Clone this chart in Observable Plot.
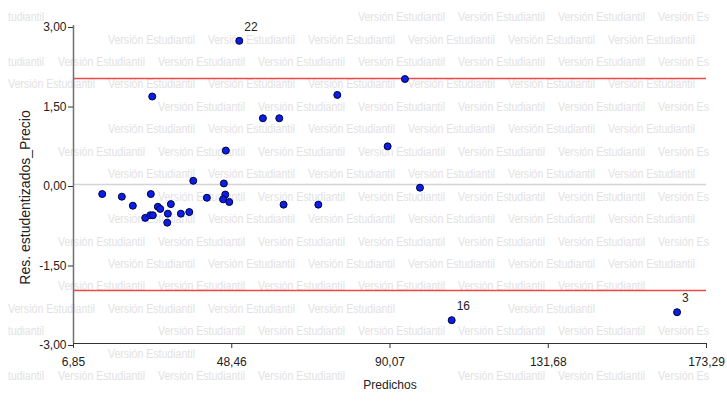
<!DOCTYPE html>
<html>
<head>
<meta charset="utf-8">
<script src="https://cdn.jsdelivr.net/npm/d3@7"></script>
<script src="https://cdn.jsdelivr.net/npm/@observablehq/plot@0.6"></script>
<style>
  body { margin: 0; background: #fff; }
  #wrap { position: relative; width: 727px; height: 403px; overflow: hidden; }
  #wm, #chart { position: absolute; left: 0; top: 0; }
</style>
</head>
<body>
<div id="wrap"><svg id="wm" width="727" height="403"></svg><div id="chart"></div></div>
<script>
// Data: predicted values (x) and studentized residuals (y); case labels for flagged points
const predichos = [14.40, 19.56, 22.45, 27.18, 25.71, 27.03, 27.71, 29.03, 29.66, 32.45,
  31.66, 31.50, 35.08, 37.29, 38.34, 41.92, 46.91, 46.39, 46.76, 46.18,
  47.81, 50.44, 94.00, 76.22, 56.65, 60.96, 89.45, 97.95, 62.09, 71.22,
  27.55, 106.29, 165.55];
const residuos = [-0.18, -0.23, -0.40, -0.18, -0.63, -0.58, -0.58, -0.42, -0.46, -0.37,
  -0.55, -0.72, -0.55, -0.52, 0.07, -0.25, 0.64, 0.02, -0.19, -0.28,
  -0.33, 2.71, 1.99, 1.69, 1.25, 1.25, 0.72, -0.06, -0.38, -0.38,
  1.66, -2.56, -2.41];
const casos = ["", "", "", "", "", "", "", "", "", "",
  "", "", "", "", "", "", "", "", "", "",
  "", "22", "", "", "", "", "", "", "", "",
  "", "16", "3"];
const xTicks = [6.85, 48.46, 90.07, 131.68, 173.29];
const yTicks = [-3, -1.5, 0, 1.5, 3];
const limites = [-2, 2];
const referencia = [0];
const watermarkText = "Versión Estudiantil";
const watermarkLeft = "tudiantil";
const watermarkRight = "Versión Es";

const data = predichos.map((x, i) => ({x, y: residuos[i], caso: casos[i]}));
const fmt = v => v.toFixed(2).replace(".", ",");

const chart = Plot.plot({
  width: 727,
  height: 403,
  marginLeft: 73,
  marginRight: 21,
  marginTop: 25,
  marginBottom: 60,
  style: {background: "transparent", fontFamily: "Liberation Sans, Arial, sans-serif", fontSize: "12px", color: "#222"},
  x: {domain: [6.85, 173.29]},
  y: {domain: [-3, 3]},
  marks: [
    Plot.ruleY(referencia, {stroke: "#d4d4d4", strokeWidth: 1.5}),
    Plot.ruleY(limites, {stroke: "#f04848", strokeWidth: 1.5}),
    Plot.ruleX([xTicks[0]], {stroke: "#707070", strokeWidth: 1.5}),
    Plot.ruleY([yTicks[0]], {stroke: "#333", strokeWidth: 1.2}),
    Plot.axisX({ticks: xTicks, tickFormat: fmt, tickSize: 5, tickPadding: 9, stroke: "#333",
      label: "Predichos", labelAnchor: "center", labelArrow: false, labelOffset: 45,
      fontSize: 12, letterSpacing: "-0.6px"}),
    Plot.axisY({ticks: yTicks, tickFormat: fmt, tickSize: 5, tickPadding: 2, stroke: "#333",
      label: null, fontSize: 12, letterSpacing: "-0.6px", dy: 2}),
    Plot.text(["Res. estudentizados_Precio"], {frameAnchor: "left", textAnchor: "middle", rotate: -90, dx: -48, dy: 13, fontSize: 14, fill: "#222"}),
    Plot.dot(data, {x: "x", y: "y", r: 3.5, fill: "#0a1ee6", stroke: "#000040", strokeWidth: 1}),
    Plot.text(data.filter(d => d.caso !== ""), {x: "x", y: "y", text: "caso", textAnchor: "start", dx: 5, dy: -14, fontSize: 12, fill: "#222"})
  ]
});
document.getElementById("chart").appendChild(chart);

// Keep-out boxes around the chart's own texts, derived from the scales
const sx = chart.scale("x"), sy = chart.scale("y");
const keepOut = [];
xTicks.forEach(t => { const c = sx.apply(t); keepOut.push([c - 19, c + 19, 354, 369]); });
yTicks.forEach(t => { const c = sy.apply(t); keepOut.push([44, 70, c - 7, c + 10]); });
keepOut.push([16, 34, 106, 289]);          // y-axis title
keepOut.push([359, 419, 376, 392]);        // x-axis title
data.filter(d => d.caso !== "").forEach(d => {
  const px = sx.apply(d.x), py = sy.apply(d.y);
  keepOut.push([px + 4, px + 20, py - 21, py - 9]);
});

// Background watermark (decoration)
const wm = d3.select("#wm");
function addWm(x, y, w, str) {
  const b = [x, x + w, y - 6, y + 6];
  if (b[0] < 0 || b[1] > 727 || b[2] < 0 || b[3] > 403) return;
  if (keepOut.some(r => r[0] < b[1] && r[1] > b[0] && r[2] < b[3] && r[3] > b[2])) return;
  wm.append("text")
    .attr("x", x).attr("y", y + 4.5)
    .attr("textLength", w).attr("lengthAdjust", "spacingAndGlyphs")
    .attr("font-family", "Liberation Sans, Arial, sans-serif")
    .attr("font-size", 12.5)
    .attr("fill", "#e2e2e2")
    .text(str);
}
for (let k = 0; k < 18; k++) {
  const y = 16.7 + 22.43 * k;
  const even = k % 2 === 0;
  const off = even ? -42 : 8;
  if (even) addWm(8, y, 36, watermarkLeft);
  for (let x = off; x < 727; x += 100) {
    if (x + 87 <= 727) addWm(x, y, 87, watermarkText);
    else if (even && x + 52 <= 727) addWm(x, y, 51, watermarkRight);
  }
}
</script>
</body>
</html>
